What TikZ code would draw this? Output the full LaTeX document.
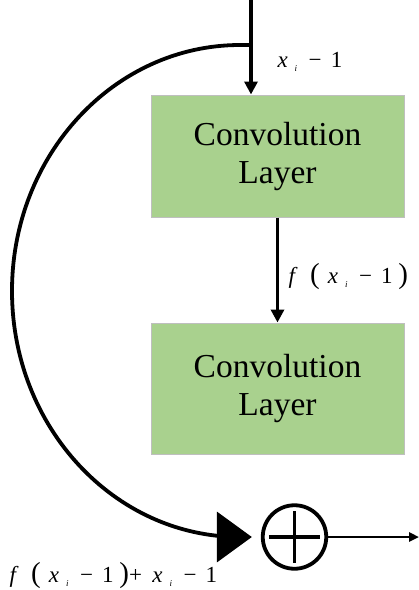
\documentclass[tikz,border=0pt]{standalone}
\usepackage{fontspec}
\setmainfont{Liberation Serif}
\usetikzlibrary{positioning,arrows.meta}
\definecolor{convgreen}{RGB}{169,209,142}
\definecolor{convedge}{RGB}{191,191,191}
\newcommand{\xsub}{\textit{x}\hspace{0.3em}\raisebox{-0.45ex}{\small\textit{i}}\hspace{0.5em}−\hspace{0.4em}1}
\newcommand{\bigpar}[1]{{\fontsize{29}{29}\selectfont #1}}

\begin{document}
\begin{tikzpicture}[x=1pt, y=-1pt, >={Triangle[length=13pt,width=13pt]}]
        \useasboundingbox (0,0) rectangle (419,590);
        \node[draw=convedge, line width=1pt, rectangle, fill=convgreen, minimum width=253pt, minimum height=122pt, align=center, font=\fontsize{33.5}{38}\selectfont] (conv1) at (277.5,156) {Convolution\\Layer};
        \node[draw=convedge, line width=1pt, rectangle, fill=convgreen, minimum width=253pt, minimum height=131pt, align=center, font=\fontsize{33.5}{38}\selectfont, below=105pt of conv1] (conv2) {Convolution\\Layer};
        \node[draw, circle, line width=3.8pt, minimum size=63.5pt, inner sep=0pt,
            path picture={\draw[line width=3.8pt, shorten <=6pt, shorten >=6pt] (path picture bounding box.west) -- (path picture bounding box.east);
                \draw[line width=3.8pt, shorten <=6pt, shorten >=6pt] (path picture bounding box.north) -- (path picture bounding box.south);}] (sum) at (294.5,537) {};

        \coordinate (top) at (251,0);
        \coordinate (split) at (251,45);
        \coordinate (out) at (419,537);

        \draw[->, line width=3.8pt] (top) -- (conv1.north -| top);
        \draw[->, line width=3.8pt] (conv1) -- (conv2);
        % skip connection around both layers
        \draw[-{Triangle[length=35pt,width=50pt]}, line width=3.8pt] (split) -- ++(-11,0) arc[start angle=-90, end angle=-270, x radius=228, y radius=246] -- ([xshift=-9pt]sum.west);
        \draw[-{Triangle[length=10pt,width=9pt]}, line width=2.5pt] (sum) -- (out);

        \node[anchor=base west, font=\fontsize{23}{23}\selectfont] (lblin) at (274,67) {\xsub};
        \node[anchor=base west, font=\fontsize{23}{23}\selectfont] (lblmid) at (285,283) {\textit{f}\hspace{0.55em}\bigpar{(}\hspace{0.35em}\xsub\hspace{0.25em}\bigpar{)}};
        \node[anchor=base west, font=\fontsize{23}{23}\selectfont] (lblsum) at (6,582) {\textit{f}\hspace{0.55em}\bigpar{(}\hspace{0.35em}\xsub\hspace{0.25em}\bigpar{)}+\hspace{0.45em}\xsub};
    \end{tikzpicture}
\end{document}
